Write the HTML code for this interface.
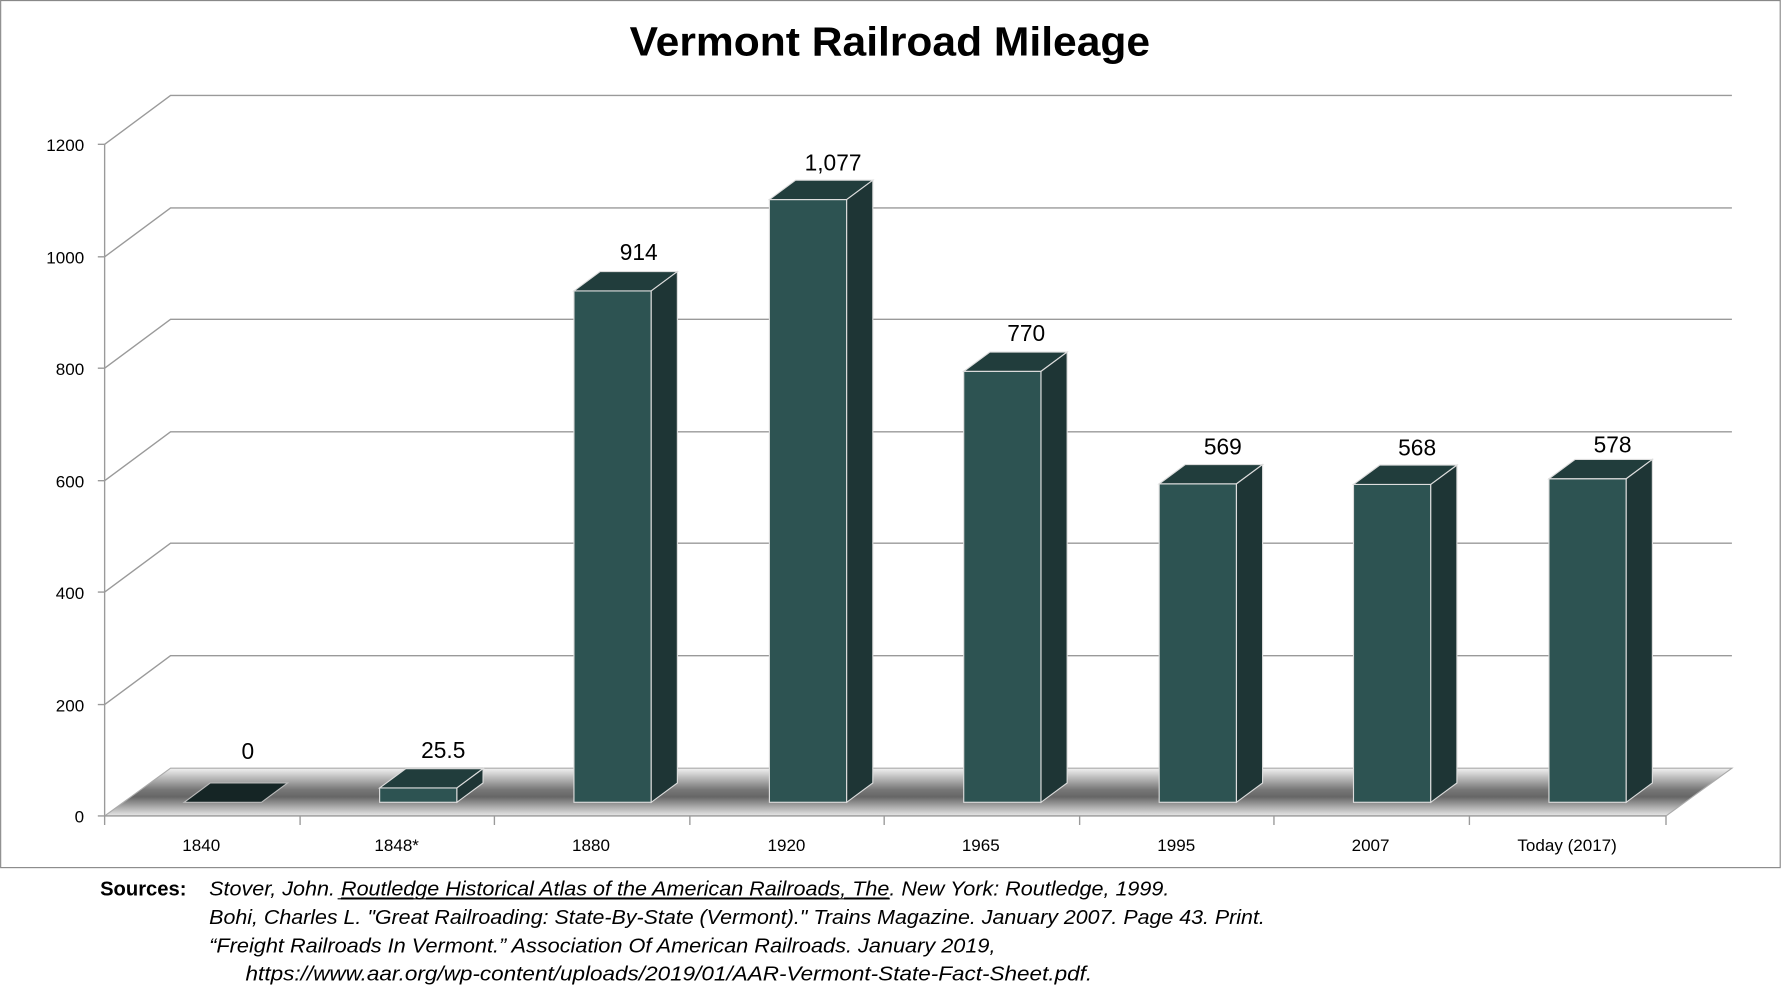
<!DOCTYPE html>
<html><head><meta charset="utf-8"><style>
html,body{margin:0;padding:0;background:#fff;}
svg{display:block;}
text{font-family:"Liberation Sans",sans-serif;}
</style></head><body>
<svg width="1782" height="1000" viewBox="0 0 1568 880" xmlns="http://www.w3.org/2000/svg">
<defs>
<linearGradient id="fl" x1="0" y1="0" x2="0" y2="1">
<stop offset="0" stop-color="#f2f2f2"/><stop offset="0.45" stop-color="#777"/><stop offset="0.6" stop-color="#666"/><stop offset="1" stop-color="#e8e8e8"/>
</linearGradient>
</defs>
<rect x="0.5" y="0.5" width="1566" height="763" fill="#fff" stroke="#888"/>
<text x="783" y="49" font-size="36" font-weight="bold" text-anchor="middle" textLength="458" lengthAdjust="spacingAndGlyphs" fill="#000">Vermont Railroad Mileage</text>
<g stroke="#9a9a9a" stroke-width="1.2" fill="none">
<path d="M92 127 L150 84 L1524 84"/>
<path d="M92 226 L150 183 L1524 183"/>
<path d="M92 324 L150 281 L1524 281"/>
<path d="M92 423 L150 380 L1524 380"/>
<path d="M92 521 L150 478 L1524 478"/>
<path d="M92 620 L150 577 L1524 577"/>
<path d="M92 127 L92 718"/>
</g>
<path d="M92 718 L150 676 L1524 676 L1466 718 Z" fill="url(#fl)" stroke="#aaa"/>
<path d="M92 718 L1466 718" stroke="#9a9a9a" stroke-width="1.2"/>
<g stroke="#9a9a9a" stroke-width="1.2">
<path d="M86 127H92M86 226H92M86 324H92M86 423H92M86 521H92M86 620H92M86 718H92"/>
<path d="M92 718V726M264 718V726M435 718V726M607 718V726M778 718V726M950 718V726M1121 718V726M1293 718V726M1466 718V726"/>
</g>
<g font-size="15" text-anchor="end" fill="#000">
<text x="74" y="133">1200</text><text x="74" y="232">1000</text><text x="74" y="330">800</text>
<text x="74" y="429">600</text><text x="74" y="527">400</text><text x="74" y="626">200</text><text x="74" y="724">0</text>
</g>
<g font-size="15" text-anchor="middle" fill="#000">
<text x="177" y="749">1840</text><text x="349" y="749">1848*</text><text x="520" y="749">1880</text>
<text x="692" y="749">1920</text><text x="863" y="749">1965</text><text x="1035" y="749">1995</text>
<text x="1206" y="749">2007</text><text x="1379" y="749">Today  (2017)</text>
</g>
<!-- bars -->
<path d="M162 706 L185 689 L253 689 L230 706 Z" fill="#152525" stroke="#bbb" stroke-width="1"/>
<g stroke="#ddd" stroke-width="1">
<g id="b2"><rect x="334" y="693.4" width="68" height="12.6" fill="#2d5352"/><path d="M334 693.4 L357 676.4 L425 676.4 L402 693.4 Z" fill="#213d3c"/><path d="M402 693.4 L425 676.4 L425 689 L402 706 Z" fill="#1e3535"/></g>
<rect x="505" y="256" width="68" height="450" fill="#2d5352"/><path d="M505 256 L528 239 L596 239 L573 256 Z" fill="#213d3c"/><path d="M573 256 L596 239 L596 689 L573 706 Z" fill="#1e3535"/>
<rect x="677" y="175.6" width="68" height="530.4" fill="#2d5352"/><path d="M677 175.6 L700 158.6 L768 158.6 L745 175.6 Z" fill="#213d3c"/><path d="M745 175.6 L768 158.6 L768 689 L745 706 Z" fill="#1e3535"/>
<rect x="848" y="326.8" width="68" height="379.2" fill="#2d5352"/><path d="M848 326.8 L871 309.8 L939 309.8 L916 326.8 Z" fill="#213d3c"/><path d="M916 326.8 L939 309.8 L939 689 L916 706 Z" fill="#1e3535"/>
<rect x="1020" y="425.8" width="68" height="280.2" fill="#2d5352"/><path d="M1020 425.8 L1043 408.8 L1111 408.8 L1088 425.8 Z" fill="#213d3c"/><path d="M1088 425.8 L1111 408.8 L1111 689 L1088 706 Z" fill="#1e3535"/>
<rect x="1191" y="426.3" width="68" height="279.7" fill="#2d5352"/><path d="M1191 426.3 L1214 409.3 L1282 409.3 L1259 426.3 Z" fill="#213d3c"/><path d="M1259 426.3 L1282 409.3 L1282 689 L1259 706 Z" fill="#1e3535"/>
<rect x="1363" y="421.3" width="68" height="284.7" fill="#2d5352"/><path d="M1363 421.3 L1386 404.3 L1454 404.3 L1431 421.3 Z" fill="#213d3c"/><path d="M1431 421.3 L1454 404.3 L1454 689 L1431 706 Z" fill="#1e3535"/>
</g>
<g font-size="20" text-anchor="middle" fill="#000">
<text x="218" y="668">0</text><text x="390" y="667">25.5</text><text x="562" y="229">914</text>
<text x="733" y="150">1,077</text><text x="903" y="300">770</text><text x="1076" y="400">569</text>
<text x="1247" y="401">568</text><text x="1419" y="398">578</text>
</g>
<text x="88" y="788" font-size="18" font-weight="bold" textLength="76" lengthAdjust="spacingAndGlyphs">Sources:</text>
<g font-size="18" font-style="italic" fill="#000">
<text x="184" y="788" textLength="845" lengthAdjust="spacingAndGlyphs">Stover, John. <tspan text-decoration="underline">Routledge Historical Atlas of the American Railroads, The</tspan>. New York: Routledge, 1999.</text>
<text x="184" y="813" textLength="929" lengthAdjust="spacingAndGlyphs">Bohi, Charles L. "Great Railroading: State-By-State (Vermont)." Trains Magazine. January 2007. Page 43. Print.</text>
<text x="184" y="838" textLength="692" lengthAdjust="spacingAndGlyphs">“Freight Railroads In Vermont.” Association Of American Railroads. January 2019,</text>
<text x="216" y="863" textLength="745" lengthAdjust="spacingAndGlyphs">https://www.aar.org/wp-content/uploads/2019/01/AAR-Vermont-State-Fact-Sheet.pdf.</text>
</g>
<line x1="297" y1="791" x2="783" y2="791" stroke="#000" stroke-width="1"/>
</svg>
</body></html>
